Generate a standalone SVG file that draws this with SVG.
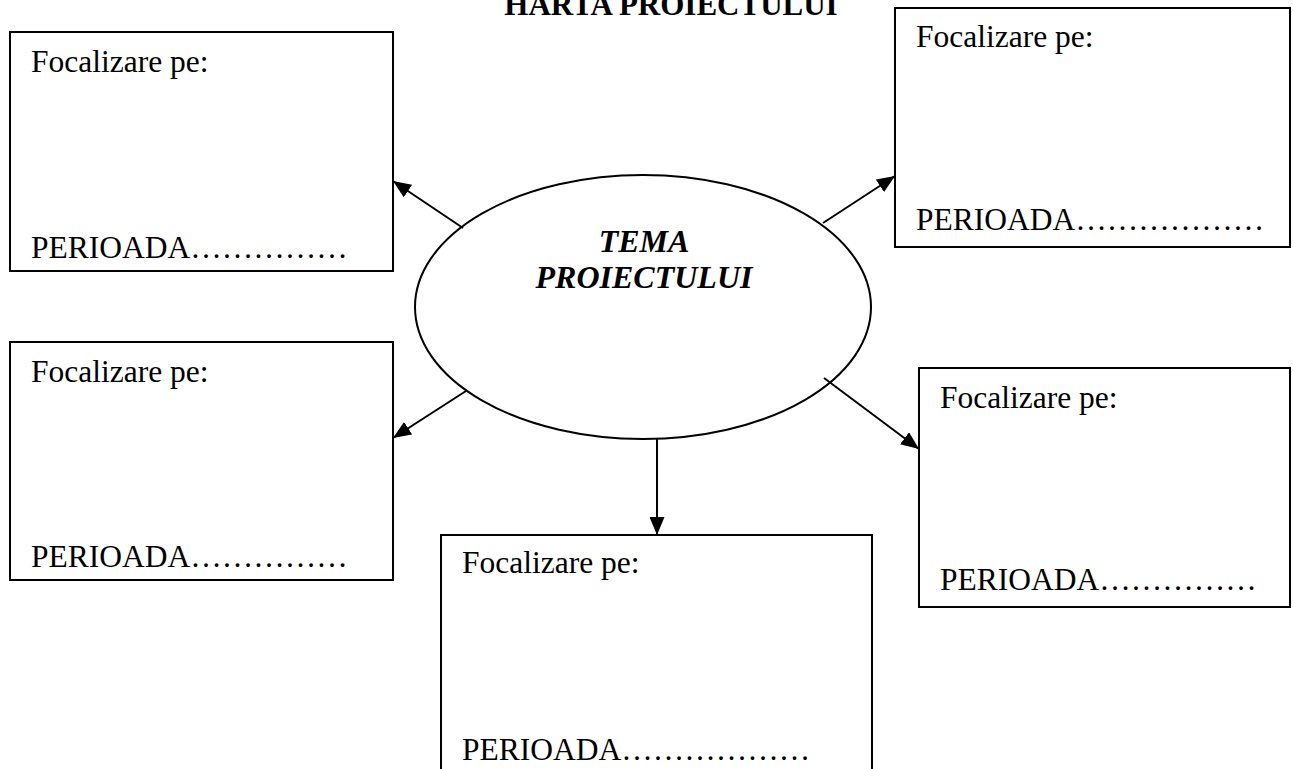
<svg xmlns="http://www.w3.org/2000/svg" width="1293" height="769" viewBox="0 0 1293 769">
<style>
  .box { fill: #fff; stroke: #000; stroke-width: 2; }
  .ell { fill: #fff; stroke: #000; stroke-width: 2; }
  .t { font-family: "Liberation Serif", "Times New Roman", serif; font-size: 31.5px; fill: #000; }
  .title { font-family: "Liberation Serif", "Times New Roman", serif; font-size: 31px; font-weight: bold; fill: #000; }
  .center { font-family: "Liberation Serif", "Times New Roman", serif; font-size: 32px; font-weight: bold; font-style: italic; fill: #000; }
  .conn { stroke: #000; stroke-width: 2; fill: none; marker-end: url(#arrow); }
</style>
<defs>
  <marker id="arrow" markerUnits="userSpaceOnUse" markerWidth="19" markerHeight="15" refX="18" refY="7.5" orient="auto">
    <path d="M0,0 L18,7.5 L0,15 z" fill="#000"/>
  </marker>
</defs>
<rect width="1293" height="769" fill="#fff"/>
<text class="title" x="671" y="15" text-anchor="middle">HARTA PROIECTULUI</text>

<g id="center">
  <ellipse class="ell" cx="643" cy="307" rx="228" ry="132"/>
  <text class="center" x="644" y="252" text-anchor="middle">TEMA</text>
  <text class="center" x="644" y="288" text-anchor="middle">PROIECTULUI</text>
</g>

<g id="box-top-left">
  <rect class="box" x="10" y="32" width="383" height="239"/>
  <text class="t" x="31" y="72">Focalizare pe:</text>
  <text class="t" x="31" y="258">PERIOADA……………</text>
</g>

<g id="box-top-right">
  <rect class="box" x="895" y="8" width="395" height="239"/>
  <text class="t" x="916" y="47">Focalizare pe:</text>
  <text class="t" x="916" y="230">PERIOADA………………</text>
</g>

<g id="box-mid-left">
  <rect class="box" x="10" y="342" width="383" height="238"/>
  <text class="t" x="31" y="382">Focalizare pe:</text>
  <text class="t" x="31" y="567">PERIOADA……………</text>
</g>

<g id="box-bottom">
  <rect class="box" x="441" y="535" width="431" height="250"/>
  <text class="t" x="462" y="573">Focalizare pe:</text>
  <text class="t" x="462" y="760">PERIOADA………………</text>
</g>

<g id="box-right">
  <rect class="box" x="919" y="368" width="371" height="239"/>
  <text class="t" x="940" y="408">Focalizare pe:</text>
  <text class="t" x="940" y="590">PERIOADA……………</text>
</g>

<g id="connectors">
  <line class="conn" x1="463" y1="228" x2="393" y2="181"/>
  <line class="conn" x1="823" y1="223" x2="895" y2="176"/>
  <line class="conn" x1="466" y1="391" x2="393" y2="438"/>
  <line class="conn" x1="657" y1="439" x2="657" y2="535"/>
  <line class="conn" x1="824" y1="378" x2="919" y2="449"/>
</g>
</svg>
